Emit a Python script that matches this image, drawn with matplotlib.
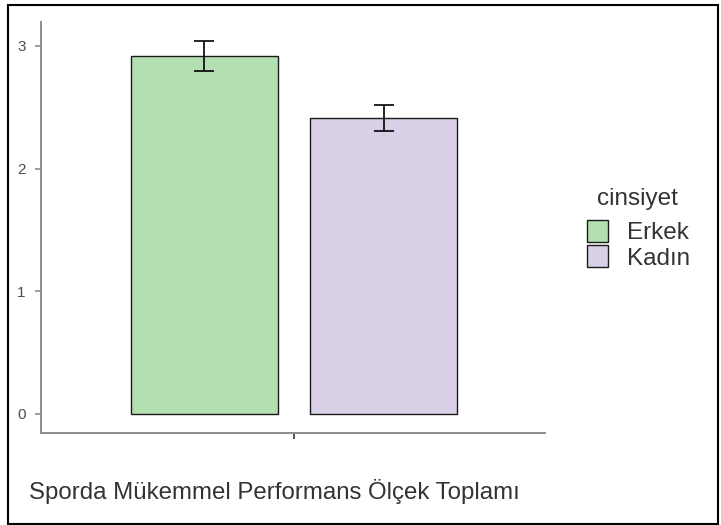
import matplotlib
matplotlib.use("Agg")
import matplotlib.pyplot as plt
from matplotlib.patches import Rectangle, Patch

plt.rcParams['font.family'] = ['Liberation Sans', 'DejaVu Sans']

# data
gruplar = ['Erkek', 'Kadın']
ortalama = [2.92, 2.41]
alt_sinir = [2.795, 2.31]
ust_sinir = [3.04, 2.52]
renkler = ['#b3dfb2', '#d9d0e8']
y_ticks = [0, 1, 2, 3]
x_etiket = 'Sporda Mükemmel Performans Ölçek Toplamı'
legend_baslik = 'cinsiyet'

fig = plt.figure(figsize=(7.21, 5.25), dpi=100)
ax = fig.add_axes([41 / 721, 92 / 525, 504 / 721, 411 / 525])

konum = [-0.5, 0.5]
hata_alt = [m - a for m, a in zip(ortalama, alt_sinir)]
hata_ust = [u - m for m, u in zip(ortalama, ust_sinir)]

ax.bar(konum, ortalama, width=0.82, color=renkler, edgecolor='#1a1a1a', linewidth=1.0, zorder=2)
ax.errorbar(konum, ortalama, yerr=[hata_alt, hata_ust], fmt='none', ecolor='black',
            elinewidth=1.2, capsize=7.5, capthick=1.2, zorder=3)

ax.set_xlim(-1.41, 1.40)
ax.set_ylim(-0.155, 3.195)
ax.set_yticks(y_ticks)
ax.set_yticklabels([str(t) for t in y_ticks])
ax.set_xticks([0])
ax.set_xticklabels([''])

for s in ['top', 'right']:
    ax.spines[s].set_visible(False)
for s in ['left', 'bottom']:
    ax.spines[s].set_color('#8c8c8c')
    ax.spines[s].set_linewidth(1.4)

ax.tick_params(axis='y', colors='#8c8c8c', labelcolor='#4d4d4d', labelsize=11, length=4, width=1.2, pad=7)
ax.tick_params(axis='x', colors='#333333', length=4, width=1.2)

fig.text(29 / 721, 1 - 491 / 525, x_etiket, fontsize=17.3, color='#333333', ha='left', va='center')

# legend title drawn separately so the gap above the keys matches
fig.text(597 / 721, 1 - 199 / 525, legend_baslik, fontsize=17.5, color='#333333', ha='left', va='center')

handles = [Patch(facecolor=c, edgecolor='#1a1a1a', linewidth=1.0) for c in renkler]
leg = fig.legend(handles, gruplar, loc='upper left',
                 bbox_to_anchor=(570 / 721, 1 - 203 / 525), frameon=False,
                 fontsize=17.5, handlelength=0.85, handleheight=1.0,
                 handletextpad=0.8, labelspacing=0.05, borderpad=0.2)
for t in leg.get_texts():
    t.set_color('#333333')

fig.patches.append(Rectangle((8 / 721, 1 / 525), 710 / 721, 519 / 525, transform=fig.transFigure,
                             fill=False, edgecolor='black', linewidth=1.5))

fig.savefig('out.png', dpi=100)
